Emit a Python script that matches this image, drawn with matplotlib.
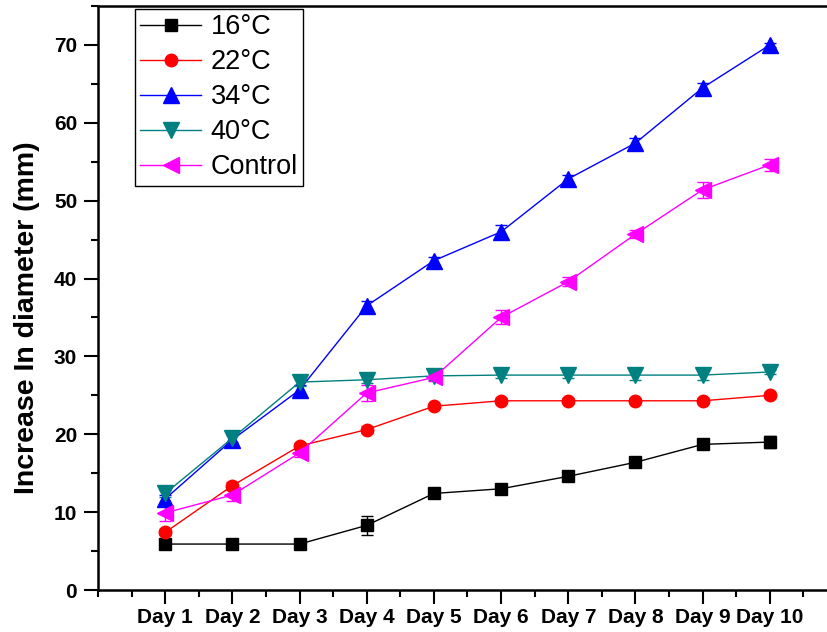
import matplotlib
matplotlib.use("Agg")
import matplotlib.pyplot as plt
import numpy as np
from matplotlib.ticker import MultipleLocator, FixedLocator

plt.rcParams['font.family'] = ['Liberation Sans', 'DejaVu Sans']

days = ["Day 1", "Day 2", "Day 3", "Day 4", "Day 5", "Day 6", "Day 7", "Day 8", "Day 9", "Day 10"]
series_names = ["16°C", "22°C", "34°C", "40°C", "Control"]

t16 = [5.9, 5.9, 5.9, 8.3, 12.4, 13.0, 14.6, 16.4, 18.7, 19.0]
t22 = [7.4, 13.4, 18.5, 20.6, 23.6, 24.3, 24.3, 24.3, 24.3, 25.0]
t34 = [11.7, 19.3, 25.7, 36.5, 42.3, 46.0, 52.8, 57.4, 64.5, 70.0]
t40 = [12.4, 19.5, 26.7, 27.0, 27.5, 27.6, 27.6, 27.6, 27.6, 28.0]
ctrl = [9.9, 12.2, 17.6, 25.3, 27.3, 35.0, 39.6, 45.7, 51.4, 54.6]

e16 = [0.3, 0.3, 0.3, 1.2, 0.5, 0.4, 0.4, 0.4, 0.5, 0.8]
e22 = [0.4, 0.5, 0.4, 0.4, 0.3, 0.3, 0.3, 0.3, 0.3, 0.3]
e34 = [0.5, 0.6, 0.6, 0.6, 0.5, 0.9, 0.5, 0.6, 0.6, 0.3]
e40 = [0.4, 0.5, 0.5, 0.4, 0.5, 0.4, 0.4, 0.6, 0.6, 0.3]
ectrl = [1.0, 0.8, 0.5, 1.0, 0.5, 0.9, 0.6, 0.5, 1.0, 0.8]

values = [t16, t22, t34, t40, ctrl]
errors = [e16, e22, e34, e40, ectrl]
colors = ["#000000", "#FF0000", "#0000FF", "#008080", "#FF00FF"]
markers = ["s", "o", "^", "v", "<"]
msizes = [9, 9, 11, 11, 11]

fig = plt.figure(figsize=(8.28, 6.32), dpi=100)
ax = fig.add_axes([98/828, 1 - 590/632, 739/828, 584/632])

x = np.arange(1, len(days) + 1)
for name, vals, errs, c, m, ms in zip(series_names, values, errors, colors, markers, msizes):
    ax.errorbar(x, vals, yerr=errs, fmt='none', ecolor=c, elinewidth=1.0, capsize=4, capthick=1.0, zorder=2)
    ax.plot(x, vals, color=c, marker=m, markersize=ms, linewidth=1.0, label=name, zorder=3,
            markeredgecolor=c, markerfacecolor=c)

ax.set_xlim(0, 11)
ax.set_ylim(0, 75)
ax.xaxis.set_major_locator(FixedLocator(x))
ax.set_xticklabels(days)
ax.xaxis.set_minor_locator(FixedLocator(np.arange(0, 11.01, 0.5)))
ax.yaxis.set_major_locator(MultipleLocator(10))
ax.yaxis.set_minor_locator(MultipleLocator(5))

for lab in ax.get_xticklabels() + ax.get_yticklabels():
    lab.set_fontweight('bold')
    lab.set_fontsize(15)

ax.tick_params(axis='both', which='major', direction='out', length=10, width=1.5)
ax.tick_params(axis='both', which='minor', direction='out', length=5, width=1.5)
ax.tick_params(axis='x', which='major', pad=3)
ax.tick_params(axis='y', which='major', pad=5)
ax.tick_params(top=False, right=False, which='both')

for s in ax.spines.values():
    s.set_linewidth(1.8)

ax.set_ylabel("Increase In diameter (mm)", fontsize=20.5, fontweight='bold')
ax.yaxis.set_label_coords(-0.079, 0.466)

leg = ax.legend(loc='upper left', bbox_to_anchor=(0.05, 0.995), borderaxespad=0,
                fontsize=19.5, frameon=True, fancybox=False, framealpha=1,
                edgecolor='black', labelspacing=0.33, handlelength=2.25,
                handletextpad=0.35, borderpad=0.2)
leg.get_frame().set_linewidth(1.0)

fig.savefig("out.png", dpi=100)
